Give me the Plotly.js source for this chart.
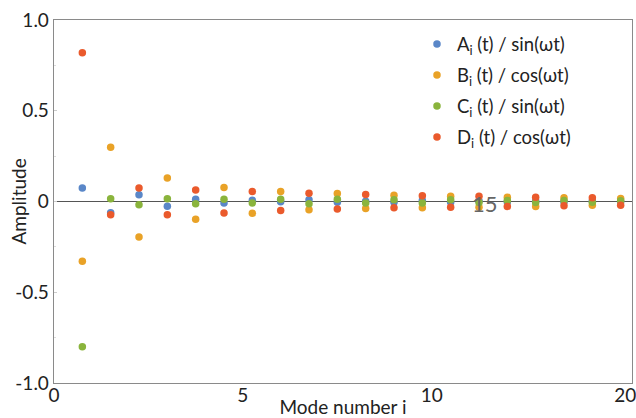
<!DOCTYPE html>
<html>
<head>
<meta charset="utf-8">
<script src="https://cdn.plot.ly/plotly-3.0.1.min.js"></script>
<style>html,body{margin:0;padding:0;background:#fff;}#chart{width:636px;height:418px;}</style>
</head>
<body>
<div id="chart"></div>
<script>
// x positions of modes i = 1..20 on the drawn axis
const modeX = [0.75, 1.5, 2.25, 3, 3.75, 4.5, 5.25, 6, 6.75, 7.5, 8.25, 9, 9.75, 10.5, 11.25, 12, 12.75, 13.5, 14.25, 15];
const seriesA = [0.075, -0.062, 0.037, -0.026, 0.013, -0.008, 0.007, -0.002, 0.009, -0.004, 0.002, -0.004, 0.006, -0.004, 0.004, -0.003, 0.003, -0.003, 0.003, -0.002];
const seriesB = [-0.329, 0.299, -0.195, 0.130, -0.098, 0.077, -0.065, 0.055, -0.045, 0.044, -0.038, 0.035, -0.035, 0.029, -0.031, 0.024, -0.027, 0.020, -0.020, 0.017];
const seriesC = [-0.800, 0.015, -0.018, 0.015, -0.013, 0.013, -0.008, 0.013, -0.012, 0.013, -0.008, 0.009, -0.008, 0.009, -0.006, 0.006, -0.005, 0.005, -0.004, 0.004];
const seriesD = [0.819, -0.073, 0.075, -0.073, 0.064, -0.063, 0.055, -0.049, 0.046, -0.042, 0.039, -0.035, 0.031, -0.031, 0.029, -0.027, 0.024, -0.024, 0.020, -0.020];
const seriesNames = ['A<sub>i</sub> (t) / sin(ωt)', 'B<sub>i</sub> (t) / cos(ωt)', 'C<sub>i</sub> (t) / sin(ωt)', 'D<sub>i</sub> (t) / cos(ωt)'];
const seriesColors = ['#5a87c8', '#e9a227', '#8ab43c', '#ea5a2c'];
const xTickVals = [0, 5, 10, 15.12];
const xTickText = ['0', '5', '10', '20'];
const yTickVals = [-1, -0.5, 0, 0.5, 1];
const yTickText = ['-1.0', '-0.5', '0', '0.5', '1.0'];

const font = 'Lato, "Open Sans", sans-serif';
const allSeries = [seriesA, seriesB, seriesC, seriesD];
const traces = allSeries.map((ys, k) => ({
  type: 'scatter', mode: 'markers', x: modeX, y: ys, name: seriesNames[k],
  legendgroup: 'g' + k,
  marker: {color: seriesColors[k], size: 7.5}
}));

const layout = {
  width: 636, height: 418,
  margin: {l: 54, r: 4, t: 20, b: 35},
  paper_bgcolor: '#fff', plot_bgcolor: '#fff',
  font: {family: font, size: 17, color: '#222'},
  showlegend: true,
  legend: {x: 0.628, y: 0.985, xanchor: 'left', yanchor: 'top', bgcolor: 'rgba(255,255,255,0)',
           font: {family: font, size: 18.5, color: '#222'}, tracegroupgap: 4},
  xaxis: {range: [0, 15.3], tickvals: xTickVals, ticktext: xTickText,
          showgrid: false, zeroline: false, showline: true, linecolor: '#8a8a8a', linewidth: 1.3, mirror: true,
          ticks: '', tickfont: {size: 19, color: '#222'}, ticklabelstandoff: -5, ticklabeloverflow: 'allow',
          title: {text: 'Mode number i', font: {size: 19, color: '#222'}, standoff: 0}},
  yaxis: {range: [-1, 1], tickvals: yTickVals, ticktext: yTickText,
          showgrid: false, zeroline: true, zerolinecolor: '#555', zerolinewidth: 1.5,
          showline: true, linecolor: '#8a8a8a', linewidth: 1.3, mirror: true,
          ticks: 'inside', ticklen: 3, tickcolor: '#ccc', tickfont: {size: 19, color: '#222'},
          minor: {dtick: 0.25, ticks: 'inside', ticklen: 2, tickcolor: '#ddd'}},
  annotations: [
    {x: 11.4, y: -0.01, xref: 'x', yref: 'y', text: '15', showarrow: false,
     font: {family: font, size: 22, color: '#666'}},
    {x: 0, y: 0.5, xref: 'paper', yref: 'paper', xanchor: 'center', yanchor: 'middle', xshift: -36,
     textangle: -90, text: 'Amplitude', showarrow: false, font: {family: font, size: 19, color: '#222'}}
  ]
};

Plotly.newPlot('chart', traces, layout, {staticPlot: true, displayModeBar: false});
</script>
</body>
</html>
